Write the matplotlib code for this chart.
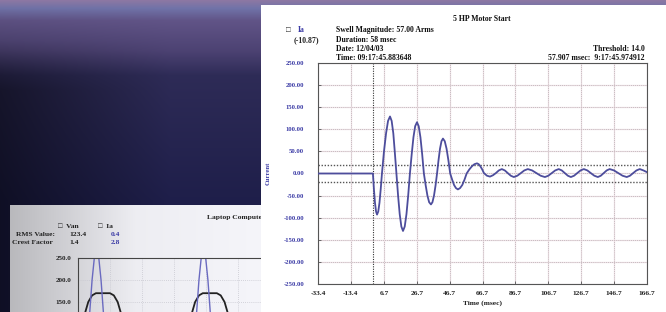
import numpy as np
import matplotlib
matplotlib.use("Agg")
import matplotlib.pyplot as plt

W, H = 666, 312

# ---- main chart data: 5 HP motor start, current Ia (A) vs time (msec)
time_ms = [-33.4, 0.0, 0.6, 1.25, 1.9, 2.5, 3.25, 4.0, 4.75, 5.5,
           6.7, 8.0, 9.2, 10.4, 11.4, 12.4, 13.3, 14.3,
           15.3, 16.3, 17.3, 18.3, 19.35, 20.4, 21.45, 22.5,
           23.6, 24.65, 25.7, 26.8, 27.85, 28.9, 29.95, 31.0,
           32.1, 33.15, 34.2, 35.3, 36.2, 37.15, 38.1, 39.0,
           39.9, 40.8, 41.7, 42.6, 43.7, 44.8, 45.9, 47.0,
           48.2, 49.35, 50.5, 51.7, 53.0, 54.35, 55.7, 57.0,
           58.6, 60.15, 61.7, 63.3, 64.35, 65.4, 66.5, 67.5,
           69.35, 71.2, 73.0, 74.8, 76.6, 78.4, 80.2, 82.0,
           83.85, 85.7, 87.85, 90.0, 92.1, 94.2, 96.8, 99.4,
           102.0, 104.6, 106.7, 108.8, 110.9, 113.0, 114.85, 116.7,
           118.55, 120.4, 122.35, 124.3, 126.3, 128.3, 130.4, 132.5,
           134.65, 136.8, 138.6, 140.4, 142.2, 144.0, 146.6, 149.2,
           151.8, 154.4, 156.35, 158.3, 160.3, 162.3, 164.5, 166.7]
current_a = [0, 0, -35, -66, -86, -93, -86, -66, -35, 0,
             49, 91, 119, 129, 119, 91, 49, 0,
             -50, -92, -120, -130, -120, -92, -50, 0,
             44, 82, 107, 116, 107, 82, 44, 0,
             -27, -50, -65, -70, -65, -50, -27, 0,
             30, 56, 73, 79, 73, 56, 30, 0,
             -14, -26, -33, -36, -33, -26, -14, 0,
             9, 16, 21, 23, 21, 16, 9, 1,
             -5, -7, -4, 1, 7, 10, 7, 1,
             -5, -8, -5, 1, 7, 10, 7, 1,
             -5, -8, -5, 1, 7, 10, 7, 1,
             -5, -8, -5, 1, 7, 10, 7, 1,
             -5, -8, -5, 1, 7, 10, 7, 1,
             -5, -8, -5, 1, 7, 10, 7, 3]
x_ticks = [-33.4, -13.4, 6.7, 26.7, 46.7, 66.7, 86.7, 106.7, 126.7, 146.7, 166.7]
x_tick_labels = ["-33.4", "-13.4", "6.7", "26.7", "46.7", "66.7", "86.7",
                 "106.7", "126.7", "146.7", "166.7"]
y_ticks = [-250, -200, -150, -100, -50, 0, 50, 100, 150, 200, 250]
threshold = [20, -20]
trigger_ms = 0.0

# ---- background chart data: laptop computer, Van (V) and Ia (A)
lap_t = [0, 1.0, 1.6, 2.2, 2.8, 5.0, 5.6, 6.2, 6.8, 8.0, 10.0, 12.0, 14.5, 16.67,
         17.7, 18.3, 18.9, 19.5, 21.7, 22.3, 22.9, 23.5, 24.7, 26.7, 28.7, 31.2, 33.3]
lap_van = [60, 120, 150, 165, 170, 170, 165, 150, 120, 60, -60, -120, -120, 60,
           120, 150, 165, 170, 170, 165, 150, 120, 60, -60, -120, -120, 60]
lap_ia_t = [0, 1.5, 2.2, 2.9, 3.6, 4.3, 6.0, 9.0, 11.0, 13.0, 16.67, 18.2, 18.9,
            19.6, 20.3, 21.0, 22.7, 25.7, 27.7, 29.7, 33.3]
lap_ia = [-20, 60, 200, 300, 200, 60, 0, -60, -300, -60, -20, 60, 200, 300, 200,
          60, 0, -60, -300, -60, -20]
lap_y_ticks = [150, 200, 250]

SERIF = "Liberation Serif"
BLUE_LINE = "#4d4d9c"
BLUE_TXT = "#3c3ca6"


def fx(px):
    return px / W


def fy(py):
    return 1 - py / H


fig = plt.figure(figsize=(W / 100, H / 100), dpi=100)

# ---- photographic background
rows = np.arange(H)
keys_y = [0, 8, 20, 50, 75, 200, 312]
keys_c = np.array([[0.55, 0.47, 0.64], [0.44, 0.45, 0.66], [0.38, 0.33, 0.53],
                   [0.30, 0.26, 0.45], [0.18, 0.17, 0.34], [0.12, 0.12, 0.29],
                   [0.12, 0.12, 0.29]])
col = np.stack([np.interp(rows, keys_y, keys_c[:, k]) for k in range(3)], axis=1)
dark_left = np.interp(np.arange(W), [0, 50, 170, W], [0.5, 0.65, 1.0, 1.0])
row_w = np.interp(rows, [0, 40, 90, H], [0.0, 0.2, 1.0, 1.0])
shade = 1 - row_w[:, None] * (1 - dark_left[None, :])
bg = col[:, None, :] * shade[:, :, None]
bg_ax = fig.add_axes([0, 0, 1, 1], zorder=0)
bg_ax.imshow(np.clip(bg, 0, 1), aspect="auto", extent=[0, W, H, 0])
bg_ax.set_axis_off()

# ---- background panel (laptop)
lp_ax = fig.add_axes([fx(10), 0, fx(262) - fx(10), fy(205)], zorder=1)
grad = np.interp(np.linspace(0, 1, 200), [0, 0.5, 1], [0.74, 0.95, 0.98])
lp_ax.imshow(np.stack([grad * 0.98, grad * 0.98, grad], axis=1)[None, :, :],
             aspect="auto", extent=[0, 1, 0, 1])
lp_ax.set_xlim(0, 1)
lp_ax.set_ylim(0, 1)
lp_ax.set_axis_off()
t_kw = dict(transform=fig.transFigure, family=SERIF, fontweight="bold", fontsize=5.4,
            va="center")
lp_ax.text(fx(207), fy(218), "Laptop Computer Input", color="#222222", **t_kw)
lp_ax.text(fx(58), fy(226), "\u25a1  Van", color="#222222", **t_kw)
lp_ax.text(fx(98), fy(226), "\u25a1  Ia", color="#222222", **t_kw)
lp_ax.text(fx(16), fy(234), "RMS Value:", color="#222222", **t_kw)
lp_ax.text(fx(69), fy(234), "123.4", color="#222222", **t_kw)
lp_ax.text(fx(111), fy(234), "0.4", color=BLUE_TXT, **t_kw)
lp_ax.text(fx(12), fy(243), "Crest Factor", color="#222222", **t_kw)
lp_ax.text(fx(69), fy(243), "1.4", color="#222222", **t_kw)
lp_ax.text(fx(111), fy(243), "2.8", color=BLUE_TXT, **t_kw)

# visible window: 250 at y=258, 22 px per 50 units, down to the figure edge
lap_lo = 250 - (H - 258) * 50 / 22
lap_ax = fig.add_axes([fx(78), 0, fx(398) - fx(78), fy(258)], zorder=2)
lap_ax.set_facecolor("none")
lap_ax.plot(lap_t, lap_van, color="#222222", lw=1.3)
lap_ax.plot(lap_ia_t, lap_ia, color="#6a6ac0", lw=1.0)
lap_ax.set_xlim(0, 50)
lap_ax.set_ylim(lap_lo, 250)
lap_ax.set_xticks(np.arange(0, 51, 5))
lap_ax.set_yticks(lap_y_ticks)
lap_ax.set_yticklabels([f"{v:.1f}" for v in lap_y_ticks], family=SERIF,
                       fontweight="bold", fontsize=5.0, color="#222222")
lap_ax.tick_params(length=0, pad=5, labelbottom=False)
lap_ax.grid(True, color="#c8c8d0", lw=0.6, ls=(0, (1, 1.5)))
for s in lap_ax.spines.values():
    s.set_color("#444444")
    s.set_linewidth(0.8)
lap_ax.spines["bottom"].set_visible(False)

# ---- main panel
mp_ax = fig.add_axes([fx(261), 0, 1 - fx(261), fy(5)], zorder=3)
mp_ax.set_facecolor("white")
mp_ax.set_xticks([])
mp_ax.set_yticks([])
for s in mp_ax.spines.values():
    s.set_visible(False)
m_kw = dict(transform=fig.transFigure, family=SERIF, fontweight="bold", fontsize=5.6,
            va="center")
mp_ax.text(fx(482), fy(19), "5 HP Motor Start", ha="center", color="#111111", **m_kw)
mp_ax.text(fx(286), fy(30), "\u25a1", ha="left", color="#222222", **m_kw)
mp_ax.text(fx(298), fy(30), "Ia", ha="left", color=BLUE_TXT, **m_kw)
mp_ax.text(fx(294), fy(40), "(-10.87)", ha="left", color="#222222", **m_kw)
mp_ax.text(fx(336), fy(30), "Swell Magnitude: 57.00 Arms", ha="left", color="#111111", **m_kw)
mp_ax.text(fx(336), fy(40), "Duration: 58 msec", ha="left", color="#111111", **m_kw)
mp_ax.text(fx(336), fy(49), "Date: 12/04/03", ha="left", color="#111111", **m_kw)
mp_ax.text(fx(336), fy(58), "Time: 09:17:45.883648", ha="left", color="#111111", **m_kw)
mp_ax.text(fx(645), fy(49), "Threshold: 14.0", ha="right", color="#111111", **m_kw)
mp_ax.text(fx(645), fy(58), "57.907 msec:  9:17:45.974912", ha="right", color="#111111", **m_kw)

ax = fig.add_axes([fx(318), fy(284), fx(647) - fx(318), fy(63) - fy(284)], zorder=4)
ax.set_facecolor("white")
ax.set_xlim(x_ticks[0], x_ticks[-1])
ax.set_ylim(y_ticks[0], y_ticks[-1])
for xv in x_ticks:
    ax.axvline(xv, color="#efdfe5", lw=0.9, zorder=1)
    ax.axvline(xv, color="#a0a0a0", lw=0.5, ls=(0, (1, 2)), zorder=1)
for yv in y_ticks:
    ax.axhline(yv, color="#efdfe5", lw=0.9, zorder=1)
    ax.axhline(yv, color="#a0a0a0", lw=0.5, ls=(0, (1, 2)), zorder=1)
ax.axvline(trigger_ms, color="#333333", lw=0.8, ls=(0, (1, 1.2)), zorder=2)
for th in threshold:
    ax.axhline(th, color="#555555", lw=1.0, ls=(0, (1, 1.2)), zorder=2)
ax.plot(time_ms, current_a, color=BLUE_LINE, lw=1.3, zorder=3)

ax.set_xticks(x_ticks)
ax.set_xticklabels(x_tick_labels, family=SERIF, fontweight="bold", fontsize=5.3,
                   color="#222222")
ax.set_yticks(y_ticks)
ax.set_yticklabels([f"{v:.2f}" for v in y_ticks], family=SERIF, fontweight="bold",
                   fontsize=4.8, color=BLUE_TXT)
ax.tick_params(axis="y", length=2, width=0.6, direction="in", pad=10, color="#555555")
ax.tick_params(axis="x", length=2, width=0.6, direction="in", pad=5, color="#555555")
ax.set_xlabel("Time (msec)", family=SERIF, fontweight="bold", fontsize=5.4,
              color="#222222", labelpad=3)
ax.set_ylabel("Current", family=SERIF, fontweight="bold", fontsize=4.8,
              color=BLUE_TXT, labelpad=9)
for s in ax.spines.values():
    s.set_color("#555555")
    s.set_linewidth(0.8)

fig.savefig("out.png", dpi=100)
